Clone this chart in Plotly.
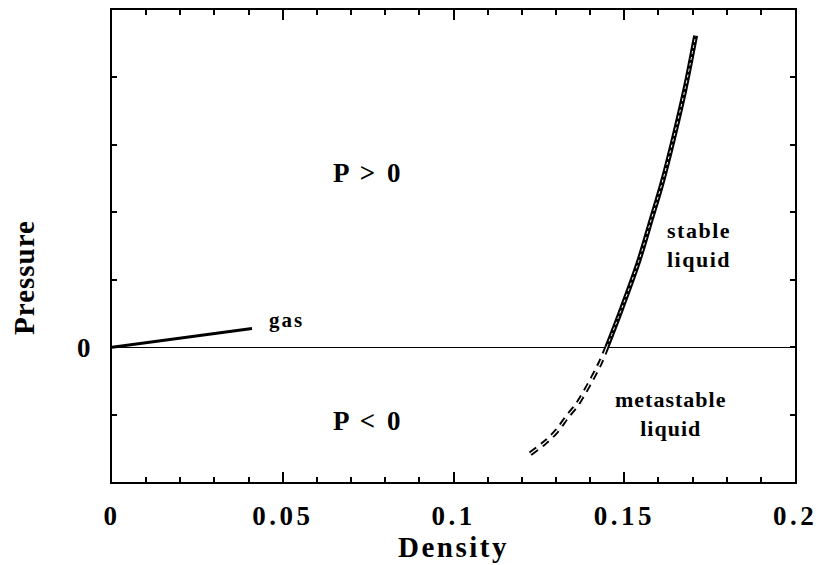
import plotly.graph_objects as go

# Data
gas_density = [0.0, 0.041]
gas_pressure = [0.0, 0.276]

stable_density = [0.1449, 0.1493, 0.1542, 0.1580, 0.1610, 0.1644, 0.1678, 0.1709]
stable_pressure = [0.0, 0.58, 1.27, 1.91, 2.42, 3.09, 3.83, 4.62]

meta_density = [0.1225, 0.1269, 0.1303, 0.1332, 0.1362, 0.1386, 0.1410, 0.1430, 0.1449]
meta_pressure = [-1.58, -1.41, -1.24, -1.04, -0.85, -0.65, -0.43, -0.23, 0.0]

x_tickvals = [0, 0.05, 0.1, 0.15, 0.2]
x_ticktext = ["0", "0.05", "0.1", "0.15", "0.2"]
y_tickvals = [-2, -1, 0, 1, 2, 3, 4, 5]
y_ticktext = ["", "", "0", "", "", "", "", ""]

FONT = "Liberation Serif"


def styled(text, spacing):
    return '<span style="letter-spacing:%spx"><b>%s</b></span>' % (spacing, text)


fig = go.Figure()

fig.add_trace(go.Scatter(x=gas_density, y=gas_pressure, mode="lines",
                         line=dict(color="black", width=3), hoverinfo="skip"))
# stable liquid: hollow-looking thick line
fig.add_trace(go.Scatter(x=stable_density, y=stable_pressure, mode="lines",
                         line=dict(color="black", width=5, shape="spline"), hoverinfo="skip"))
fig.add_trace(go.Scatter(x=stable_density, y=stable_pressure, mode="lines",
                         line=dict(color="white", width=1, shape="spline", dash="dot"), hoverinfo="skip"))
# metastable liquid: dashed hollow line
fig.add_trace(go.Scatter(x=meta_density, y=meta_pressure, mode="lines",
                         line=dict(color="black", width=5, shape="spline", dash="8px,6px"), hoverinfo="skip"))
fig.add_trace(go.Scatter(x=meta_density, y=meta_pressure, mode="lines",
                         line=dict(color="white", width=1.2, shape="spline", dash="8px,6px"), hoverinfo="skip"))

annots = [
    dict(x=0.075, y=2.58, text="P > 0", size=27, sp=2.5),
    dict(x=0.075, y=-1.09, text="P < 0", size=27, sp=2.5),
    dict(x=0.0511, y=0.41, text="gas", size=21, sp=2),
    dict(x=0.172, y=1.51, text="stable<br>liquid", size=22, sp=1.5),
    dict(x=0.1635, y=-0.99, text="metastable<br>liquid", size=22, sp=1),
]
for a in annots:
    lines = a["text"].split("<br>")
    txt = "<br>".join(styled(l, a["sp"]) for l in lines)
    fig.add_annotation(x=a["x"], y=a["y"], xref="x", yref="y", text=txt,
                       showarrow=False, font=dict(family=FONT, size=a["size"], color="black"))

# y-axis title placed as annotation (it sits below the vertical centre in the reference)
fig.add_annotation(x=-0.13, y=1.03, xref="paper", yref="y", text=styled("Pressure", 1),
                   textangle=-90, showarrow=False, xanchor="center", yanchor="middle",
                   font=dict(family=FONT, size=29, color="black"))

fig.update_layout(
    width=825, height=565,
    margin=dict(l=112, r=28, t=8, b=83),
    paper_bgcolor="white", plot_bgcolor="white",
    showlegend=False,
    font=dict(family=FONT, color="black"),
    xaxis=dict(range=[0, 0.2], tickvals=x_tickvals, ticktext=[styled(t, 3.5) for t in x_ticktext],
               ticks="inside", ticklen=10, tickwidth=2, tickcolor="black",
               minor=dict(dtick=0.01, ticks="inside", ticklen=5, tickwidth=1.5, tickcolor="black"),
               showline=True, linewidth=2, linecolor="black", mirror="ticks",
               showgrid=False, zeroline=False,
               tickfont=dict(family=FONT, size=27), ticklabelstandoff=9,
               title=dict(text=styled("Density", 2.5), font=dict(family=FONT, size=29), standoff=2)),
    yaxis=dict(range=[-2, 5], tickvals=y_tickvals, ticktext=[styled(t, 0) if t else "" for t in y_ticktext],
               ticks="inside", ticklen=5, tickwidth=1.5, tickcolor="black",
               showline=True, linewidth=2, linecolor="black", mirror="ticks",
               showgrid=False, zeroline=True, zerolinecolor="black", zerolinewidth=1,
               tickfont=dict(family=FONT, size=27), ticklabelstandoff=14),
)

fig.write_html("out.html")
